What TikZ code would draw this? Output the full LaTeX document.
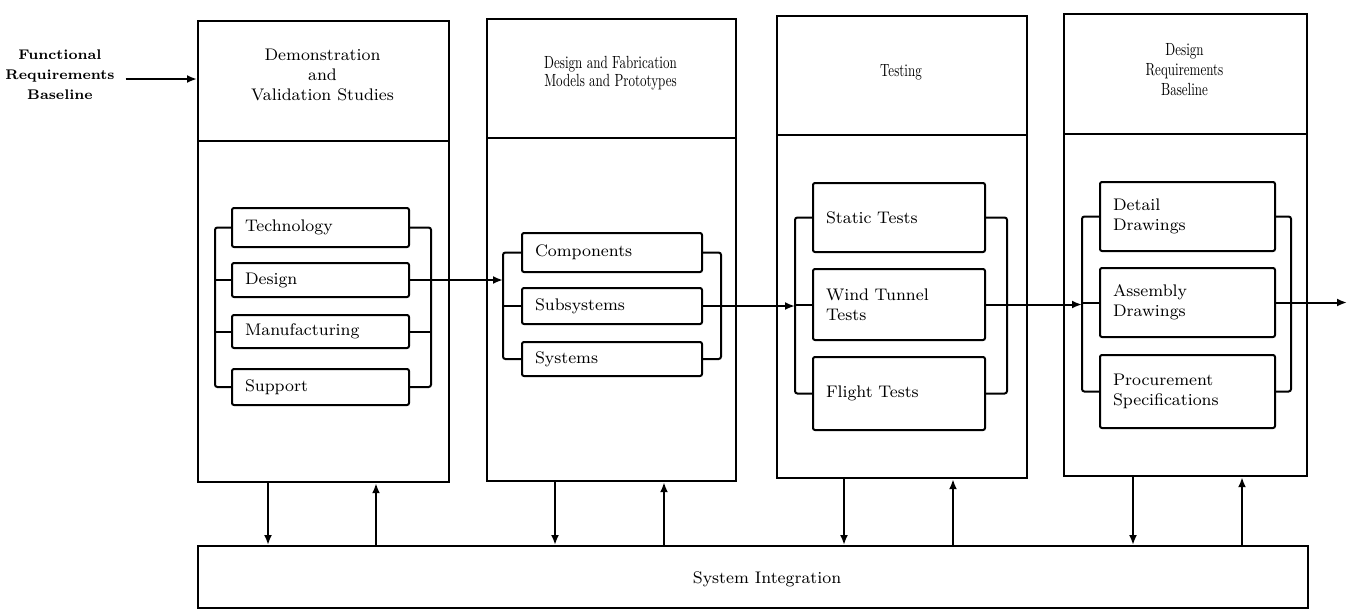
\documentclass[tikz,border=0pt]{standalone}
\usepackage{fontspec}
\usetikzlibrary{arrows.meta}
\newfontfamily\condfont{lmroman10-regular}[Extension=.otf,FakeStretch=0.74]

\tikzset{
  panel/.style={draw, line width=1.1pt, anchor=north west, inner sep=0pt},
  headtext/.style={align=center, font=\fontsize{8.4}{10}\selectfont},
  condtext/.style={align=center, font=\condfont\fontsize{8.8}{10}\selectfont},
  item/.style={draw, line width=1pt, rounded corners=1pt, align=left,
               inner xsep=6.5pt, inner ysep=0pt, font=\fontsize{8.4}{10}\selectfont},
  link/.style={line width=1pt, rounded corners=1.2pt},
  arr/.style={line width=1pt, -{Latex[length=5pt,width=4pt]}},
}

\begin{document}
\begin{tikzpicture}[x=0.5pt, y=-0.5pt]
\useasboundingbox (0,0) rectangle (1350,612);

% ---- phase panels: header box + body box ----
\node[panel, minimum width=125.5pt, minimum height=60pt] (h1) at (197,20) {};
\node[panel, minimum width=125.5pt, minimum height=170.5pt] (b1) at (197,140) {};
\node[headtext] (h1t) at (322.5,75) {Demonstration\\and\\Validation Studies};

\node[panel, minimum width=124.5pt, minimum height=59.5pt] (h2) at (486,18) {};
\node[panel, minimum width=124.5pt, minimum height=171.5pt] (b2) at (486,137) {};
\node[condtext, font=\condfont\fontsize{8.8}{8.8}\selectfont] (h2t) at (610.5,73)
  {Design and Fabrication\\Models and Prototypes};

\node[panel, minimum width=125pt, minimum height=59.5pt] (h3) at (776,15) {};
\node[panel, minimum width=125pt, minimum height=171.5pt] (b3) at (776,134) {};
\node[condtext] (h3t) at (901,72) {Testing};

\node[panel, minimum width=121.5pt, minimum height=60pt] (h4) at (1063,13) {};
\node[panel, minimum width=121.5pt, minimum height=171pt] (b4) at (1063,133) {};
\node[condtext] (h4t) at (1184.5,70) {Design\\Requirements\\Baseline};

% ---- system integration ----
\node[panel, minimum width=555pt, minimum height=31pt] (si) at (197,545) {};
\node[font=\fontsize{8.4}{10}\selectfont] (silabel) at (767,579) {System Integration};

% ---- functional requirements input ----
\node[font=\bfseries\fontsize{7}{10}\selectfont, align=center] (fr) at (60,75)
  {Functional\\Requirements\\Baseline};
\coordinate (frin) at ([yshift=-2pt]fr.east);
\draw[arr] ([xshift=2pt]frin) -- (frin -| h1.west);

% ---- panel 1 items ----
\node[item, minimum width=88.5pt, text width=75.5pt, minimum height=19.5pt] (t1) at (320.5,227.5) {Technology};
\node[item, minimum width=88.5pt, text width=75.5pt, minimum height=17pt]   (t2) at (320.5,280) {Design};
\node[item, minimum width=88.5pt, text width=75.5pt, minimum height=16.5pt] (t3) at (320.5,331.5) {Manufacturing};
\node[item, minimum width=88.5pt, text width=75.5pt, minimum height=18pt]   (t4) at (320.5,387) {Support};

% ---- panel 2 items ----
\node[item, minimum width=90pt, text width=77pt, minimum height=19.5pt] (c2) at (612,252.5) {Components};
\node[item, minimum width=90pt, text width=77pt, minimum height=18pt]   (s2) at (612,306) {Subsystems};
\node[item, minimum width=90pt, text width=77pt, minimum height=17pt]   (y2) at (612,359) {Systems};

% ---- panel 3 items ----
\node[item, minimum width=86pt, text width=73pt, minimum height=34.5pt] (st3) at (899,217.5) {Static Tests};
\node[item, minimum width=86pt, text width=73pt, minimum height=35.5pt] (w3)  at (899,304.5) {Wind Tunnel\\Tests};
\node[item, minimum width=86pt, text width=73pt, minimum height=36.5pt] (f3)  at (899,393.5) {Flight Tests};

% ---- panel 4 items ----
\node[item, minimum width=87.5pt, text width=74.5pt, minimum height=34.5pt] (d4) at (1187.5,216.5) {Detail\\Drawings};
\node[item, minimum width=87.5pt, text width=74.5pt, minimum height=34.5pt] (a4) at (1187.5,302.5) {Assembly\\Drawings};
\node[item, minimum width=87.5pt, text width=74.5pt, minimum height=36.5pt] (p4) at (1187.5,391.5) {Procurement\\Specifications};

% ---- bracket rails ----
\coordinate (bl1) at (215,0);  \coordinate (br1) at (431,0);
\coordinate (bl2) at (503,0);  \coordinate (br2) at (721,0);
\coordinate (bl3) at (795,0);  \coordinate (br3) at (1007,0);
\coordinate (bl4) at (1082,0); \coordinate (br4) at (1291,0);
\coordinate (out) at (1347,0);

% panel 1 brackets
\draw[link] (t1.west) -- (t1.west -| bl1) -- (t4.west -| bl1) -- (t4.west);
\draw[link] (t2.west -| bl1) -- (t2.west);
\draw[link] (t3.west -| bl1) -- (t3.west);
\draw[link] (t1.east) -- (t1.east -| br1) -- (t4.east -| br1) -- (t4.east);
\draw[link] (t3.east -| br1) -- (t3.east);

% panel 2 brackets
\draw[link] (c2.west) -- (c2.west -| bl2) -- (y2.west -| bl2) -- (y2.west);
\draw[link] (s2.west -| bl2) -- (s2.west);
\draw[link] (c2.east) -- (c2.east -| br2) -- (y2.east -| br2) -- (y2.east);

% panel 3 brackets
\draw[link] (st3.west) -- (st3.west -| bl3) -- (f3.west -| bl3) -- (f3.west);
\draw[link] (w3.west -| bl3) -- (w3.west);
\draw[link] (st3.east) -- (st3.east -| br3) -- (f3.east -| br3) -- (f3.east);

% panel 4 brackets
\draw[link] (d4.west) -- (d4.west -| bl4) -- (p4.west -| bl4) -- (p4.west);
\draw[link] (a4.west -| bl4) -- (a4.west);
\draw[link] (d4.east) -- (d4.east -| br4) -- (p4.east -| br4) -- (p4.east);

% ---- flow between panels ----
\draw[arr] (t2.east) -- (t2.east -| bl2);
\draw[arr] (s2.east) -- (s2.east -| bl3);
\draw[arr] (w3.east) -- (w3.east -| bl4);
\draw[arr] (a4.east) -- (a4.east -| out);

% ---- exchanges with system integration ----
\coordinate (d1) at (268,0);  \coordinate (u1) at (376,0);
\coordinate (d2) at (555,0);  \coordinate (u2) at (664,0);
\coordinate (d3) at (844,0);  \coordinate (u3) at (953,0);
\coordinate (d4x) at (1133,0); \coordinate (u4) at (1242,0);

\draw[arr] (b1.south -| d1) -- (si.north -| d1);
\draw[arr] (si.north -| u1) -- (b1.south -| u1);
\draw[arr] (b2.south -| d2) -- (si.north -| d2);
\draw[arr] (si.north -| u2) -- (b2.south -| u2);
\draw[arr] (b3.south -| d3) -- (si.north -| d3);
\draw[arr] (si.north -| u3) -- (b3.south -| u3);
\draw[arr] (b4.south -| d4x) -- (si.north -| d4x);
\draw[arr] (si.north -| u4) -- (b4.south -| u4);
\end{tikzpicture}
\end{document}
